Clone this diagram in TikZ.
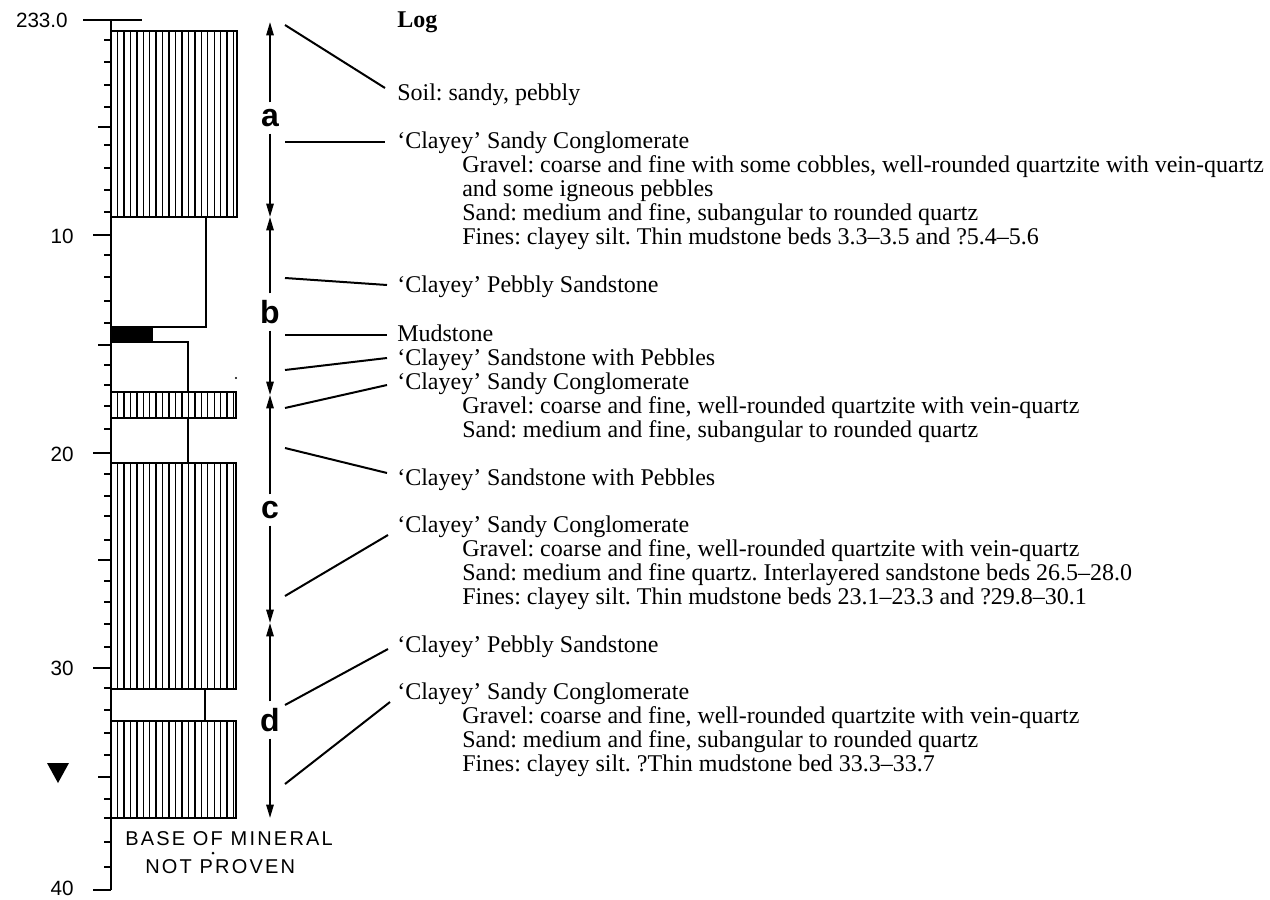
\documentclass[tikz,border=0pt]{standalone}
\usepackage{fontspec}
\setmainfont{Liberation Serif}
\newfontfamily\sansf{Liberation Sans}
\newfontfamily\basef[LetterSpace=11]{Liberation Sans}
\usetikzlibrary{arrows.meta}
\frenchspacing
\newcommand\hatchedbox[4]{%
  \begin{scope}
    \clip (#1,#2) rectangle (#3,#4);
    \foreach \i in {1,...,19}{\draw[hatch] ({#1+6.45*\i},#2) -- ({#1+6.45*\i},#4);}
  \end{scope}
  \draw[box] (#1,#2) rectangle (#3,#4);}
\begin{document}
\begin{tikzpicture}[x=0.75pt,y=-0.75pt,
  txt/.style={anchor=base west,inner sep=0pt,font=\fontsize{18pt}{18pt}\selectfont},
  num/.style={anchor=east,inner sep=0pt,font=\sansf\fontsize{15.5pt}{15.5pt}\selectfont},
  base/.style={anchor=base west,inner sep=0pt,font=\basef\fontsize{15pt}{15pt}\selectfont},
  seg/.style={inner xsep=1pt,inner ysep=5pt,font=\sansf\bfseries\fontsize{24pt}{24pt}\selectfont},
  lead/.style={line width=1.5pt},
  arr/.style={line width=1.3pt,-{Triangle[length=10pt,width=5.5pt]}},
  hatch/.style={line width=1.05pt},
  box/.style={line width=1.6pt},
  axis/.style={line width=1.7pt},
  tick/.style={line width=1.5pt}]
\useasboundingbox (0,0) rectangle (1270,899);

% ---- depth axis ----
\draw[axis] (111,20) -- (111,890);
\draw[tick] (83,20) -- (142,20);
\foreach \yy in {40,62,85,107,145,168,190,212,255,277,301,323,365,385,406,429,474,496,516,540,581,602,624,647,688,710,733,755,799,818,842,867}
  \draw[tick] (104,\yy) -- (111,\yy);
\foreach \yy in {127,345,560,777}
  \draw[tick] (98,\yy) -- (111,\yy);
\foreach \yy in {235,453,668,890}
  \draw[tick] (93,\yy) -- (111,\yy);
\node[num] (n0) at (68,20) {233.0};
\node[num] (n10) at (74,236) {10};
\node[num] (n20) at (74,454) {20};
\node[num] (n30) at (74,668) {30};
\node[num] (n40) at (74,888) {40};

% ---- log column ----
\hatchedbox{111}{31}{237}{217}
\draw[box] (111,217) rectangle (206,327);
\fill (111,327) rectangle (152,342);
\draw[box] (111,327) rectangle (152,342);
\draw[box] (111,342) rectangle (188,392);
\hatchedbox{111}{392}{236}{418}
\draw[box] (111,418) rectangle (188,463);
\hatchedbox{111}{463}{236}{689}
\draw[box] (111,689) rectangle (205,721);
\hatchedbox{111}{721}{236}{818}
\fill (236,378) circle (1.2);

% water level
\fill (47,763) -- (69,763) -- (58,783) -- cycle;

\node[base] (bm1) at (125,845) {BASE OF MINERAL};
\node[base] (bm2) at (145,873) {NOT PROVEN};
\fill (213,853) circle (1.5);

% ---- units a-d ----
\coordinate (aT) at (270,22);
\coordinate (ab) at (270,217);
\coordinate (bc) at (270,395);
\coordinate (cd) at (270,623);
\coordinate (dB) at (270,818);
\node[seg] (la) at (270,118) {a};
\node[seg] (lb) at (270,312) {b};
\node[seg] (lc) at (270,510) {c};
\node[seg] (ld) at (270,720) {d};
\draw[arr] (la) -- (aT);
\draw[arr] (la) -- (ab);
\draw[arr] (lb) -- (ab);
\draw[arr] (lb) -- (bc);
\draw[arr] (lc) -- (bc);
\draw[arr] (lc) -- (cd);
\draw[arr] (ld) -- (cd);
\draw[arr] (ld) -- (dB);

% ---- descriptions ----
\node[txt,font=\bfseries\fontsize{18pt}{18pt}\selectfont] (log) at (397,28) {Log};
\node[txt] (t1) at (397,100) {Soil: sandy, pebbly};
\node[txt] (t2) at (397,148) {‘Clayey’ Sandy Conglomerate};
\node[txt] (t2a) at (462,172) {Gravel: coarse and fine with some cobbles, well-rounded quartzite with vein-quartz};
\node[txt] (t2b) at (462,196) {and some igneous pebbles};
\node[txt] (t2c) at (462,220) {Sand: medium and fine, subangular to rounded quartz};
\node[txt] (t2d) at (462,244) {Fines: clayey silt. Thin mudstone beds 3.3–3.5 and ?5.4–5.6};
\node[txt] (t3) at (397,292) {‘Clayey’ Pebbly Sandstone};
\node[txt] (t4) at (397,341) {Mudstone};
\node[txt] (t5) at (397,365) {‘Clayey’ Sandstone with Pebbles};
\node[txt] (t6) at (397,389) {‘Clayey’ Sandy Conglomerate};
\node[txt] (t6a) at (462,413) {Gravel: coarse and fine, well-rounded quartzite with vein-quartz};
\node[txt] (t6b) at (462,437) {Sand: medium and fine, subangular to rounded quartz};
\node[txt] (t7) at (397,485) {‘Clayey’ Sandstone with Pebbles};
\node[txt] (t8) at (397,532) {‘Clayey’ Sandy Conglomerate};
\node[txt] (t8a) at (462,556) {Gravel: coarse and fine, well-rounded quartzite with vein-quartz};
\node[txt] (t8b) at (462,580) {Sand: medium and fine quartz. Interlayered sandstone beds 26.5–28.0};
\node[txt] (t8c) at (462,604) {Fines: clayey silt. Thin mudstone beds 23.1–23.3 and ?29.8–30.1};
\node[txt] (t9) at (397,652) {‘Clayey’ Pebbly Sandstone};
\node[txt] (t10) at (397,699) {‘Clayey’ Sandy Conglomerate};
\node[txt] (t10a) at (462,723) {Gravel: coarse and fine, well-rounded quartzite with vein-quartz};
\node[txt] (t10b) at (462,747) {Sand: medium and fine, subangular to rounded quartz};
\node[txt] (t10c) at (462,771) {Fines: clayey silt. ?Thin mudstone bed 33.3–33.7};

% ---- leader lines ----
\coordinate (p1) at (285,25);   \coordinate (q1) at (385,88);
\coordinate (p2) at (285,142);  \coordinate (q2) at (385,142);
\coordinate (p3) at (285,278);  \coordinate (q3) at (387,285);
\coordinate (p4) at (285,335);  \coordinate (q4) at (387,335);
\coordinate (p5) at (285,370);  \coordinate (q5) at (387,358);
\coordinate (p6) at (285,408);  \coordinate (q6) at (387,385);
\coordinate (p7) at (285,448);  \coordinate (q7) at (387,473);
\coordinate (p8) at (285,596);  \coordinate (q8) at (388,535);
\coordinate (p9) at (285,705);  \coordinate (q9) at (388,649);
\coordinate (p10) at (285,784); \coordinate (q10) at (390,702);
\foreach \k in {1,...,10} \draw[lead] (p\k) -- (q\k);
\end{tikzpicture}
\end{document}
